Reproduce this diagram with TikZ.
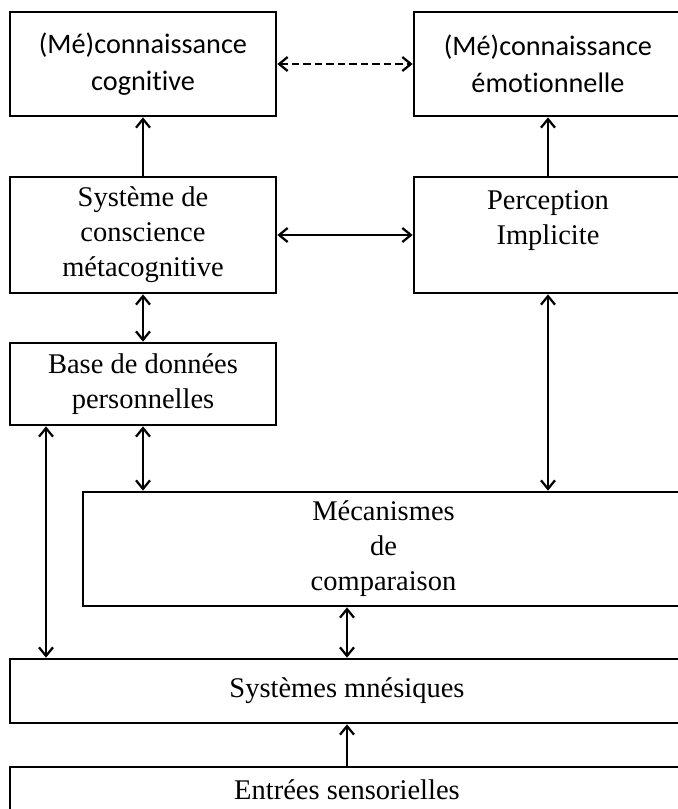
\documentclass[tikz,border=0pt]{standalone}
\usepackage{fontspec}
\setmainfont{Liberation Serif}
\newfontfamily\calib[Ligatures=NoCommon]{Carlito}
\usepackage{tikz}
\usetikzlibrary{positioning,arrows.meta}

\begin{document}
\begin{tikzpicture}[x=0.4pt, y=-0.4pt,
    box/.style={draw, line width=1.1pt, inner sep=0pt, align=center,
        font=\fontsize{11.4}{14}\selectfont},
    sbox/.style={box, font=\calib\fontsize{11.3}{15}\selectfont},
    arr/.style={line width=0.9pt, {Straight Barb[length=3.4pt,width=5.6pt]}-{Straight Barb[length=3.4pt,width=5.6pt]}},
    uarr/.style={line width=0.9pt, -{Straight Barb[length=3.4pt,width=5.6pt]}}]
    \useasboundingbox (0,0) rectangle (678,809);
    \clip (0,0) rectangle (678,809);

    % top row
    \node[sbox, minimum width=106.4pt, minimum height=41.6pt] (mcog) at (143,64)
        {(Mé)connaissance\\cognitive};
    \node[sbox, minimum width=107.2pt, minimum height=41.6pt] (memo) at (548,64)
        {(Mé)connaissance\\émotionnelle};

    % second row
    \node[box, minimum width=106.4pt, minimum height=46.4pt] (sys) at (143,235)
        {Système de\\conscience\\métacognitive};
    \node[box, minimum width=107.2pt, minimum height=46.4pt] (perc) at (548,235)
        {Perception\\Implicite\\\mbox{}};

    % lower boxes
    \node[box, minimum width=106.4pt, minimum height=32.8pt] (base) at (143,384)
        {Base de données\\personnelles};
    \node[box, minimum width=240.4pt, minimum height=45.6pt] (meca) at (383.5,549)
        {Mécanismes\\de\\comparaison};
    \node[box, minimum width=269.6pt, minimum height=25.6pt] (mnes) at (347,691)
        {Systèmes mnésiques};
    \node[box, minimum width=269.6pt, minimum height=18.4pt] (entr) at (347,790)
        {Entrées sensorielles};

    \coordinate (left) at (46,0);
    \coordinate (right) at (548,0);

    % connectors
    \draw[arr, dash pattern=on 3pt off 1.6pt] (mcog) -- (memo);
    \draw[arr] (sys) -- (perc);
    \draw[uarr] (sys) -- (mcog);
    \draw[uarr] (perc) -- (memo);
    \draw[arr] (sys) -- (base);
    \draw[arr] (base.south) -- (base.south |- meca.north);
    \draw[arr] (perc.south -| right) -- (meca.north -| right);
    \draw[arr] (base.south -| left) -- (mnes.north -| left);
    \draw[arr] (mnes.north) -- (mnes.north |- meca.south);
    \draw[uarr] (entr) -- (mnes);
\end{tikzpicture}
\end{document}
